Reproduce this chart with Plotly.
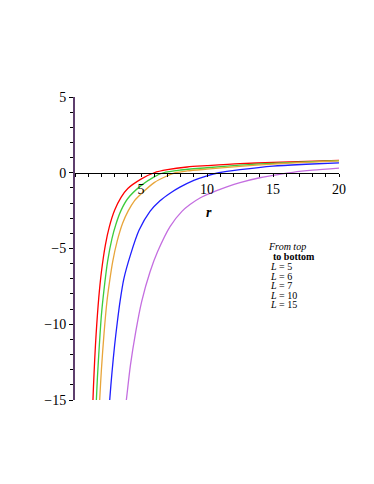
import plotly.graph_objects as go

# L = 5
r_L5 = [1.33, 1.4, 1.5, 1.6, 1.8, 2.0, 2.3, 2.6, 3.0, 3.5, 4.0, 5.0, 6.0, 7.0, 8.5, 10, 12.5, 15, 17.5, 20]
v_L5 = [-15.7, -14.1, -12.2, -10.65, -8.26, -6.55, -4.77, -3.57, -2.48, -1.61, -1.04, -0.42, 0.0, 0.2, 0.38, 0.47, 0.6, 0.68, 0.75, 0.82]
# L = 6
r_L6 = [1.58, 1.62, 1.7, 1.8, 2.0, 2.2, 2.47, 2.8, 3.1, 3.48, 4.0, 5.0, 6.0, 6.7, 8.0, 10, 12.5, 15, 17.5, 20]
v_L6 = [-16.0, -15.0, -13.5, -12.0, -9.4, -7.7, -5.85, -4.35, -3.4, -2.5, -1.7, -0.85, -0.27, 0.0, 0.18, 0.33, 0.5, 0.62, 0.72, 0.80]
# L = 7
r_L7 = [1.83, 1.87, 2.0, 2.2, 2.42, 2.6, 2.86, 3.2, 3.6, 4.04, 4.5, 5.0, 6.0, 7.0, 7.6, 8.5, 10, 12.5, 15, 17.5, 20]
v_L7 = [-15.7, -15.0, -13.0, -10.6, -8.5, -7.3, -5.85, -4.5, -3.35, -2.5, -1.85, -1.4, -0.65, -0.2, 0.0, 0.12, 0.24, 0.42, 0.57, 0.69, 0.79]
# L = 10
r_L10 = [2.58, 2.63, 2.8, 3.0, 3.2, 3.41, 3.7, 4.19, 4.85, 5.68, 6.44, 7.2, 7.95, 9.0, 10, 10.9, 12.5, 15, 17.5, 20]
v_L10 = [-15.8, -15.0, -13.2, -11.4, -9.9, -8.5, -7.0, -5.45, -3.8, -2.55, -1.85, -1.35, -0.95, -0.5, -0.2, 0.0, 0.2, 0.44, 0.56, 0.65]
# L = 15
r_L15 = [3.8, 3.89, 4.2, 4.6, 5.05, 5.68, 6.26, 7.2, 8.1, 8.71, 9.5, 10.73, 11.5, 12.5, 14, 15.5, 16.5, 18, 20]
v_L15 = [-15.6, -15.0, -12.7, -10.5, -8.5, -6.55, -5.2, -3.55, -2.55, -2.1, -1.65, -1.18, -0.93, -0.65, -0.33, -0.1, 0.03, 0.17, 0.31]

series = [
    ("L = 5", r_L5, v_L5, "#ff0000"),
    ("L = 6", r_L6, v_L6, "#3ccc3c"),
    ("L = 7", r_L7, v_L7, "#e8a53a"),
    ("L = 10", r_L10, v_L10, "#1f1fff"),
    ("L = 15", r_L15, v_L15, "#c46ee0"),
]

x_ticks = [5, 10, 15, 20]
y_ticks = [-15, -10, -5, 0, 5]
legend_lines = ["<i>L</i> = 5", "<i>L</i> = 6", "<i>L</i> = 7", "<i>L</i> = 10", "<i>L</i> = 15"]

fig = go.Figure()
for name, xs, ys, col in series:
    fig.add_trace(go.Scatter(x=xs, y=ys, mode="lines", name=name,
                             line=dict(color=col, width=1.3, shape="spline", smoothing=0.8),
                             showlegend=False))

serif = "Liberation Serif"
# the page adds an 8px body offset, margins compensate for it
fig.update_layout(
    width=374, height=484,
    margin=dict(l=67, r=43, t=89, b=92, autoexpand=False),
    paper_bgcolor="white", plot_bgcolor="white",
    font=dict(family=serif, size=14, color="black"),
    xaxis=dict(range=[0, 20], anchor="free", position=0.75, showline=True, linecolor="black",
               linewidth=1, showgrid=False, zeroline=False, tickvals=x_ticks, ticks="outside",
               ticklen=3, tickcolor="black", tickfont=dict(family=serif, size=14),
               minor=dict(dtick=1, ticks="outside", ticklen=3, tickcolor="black")),
    yaxis=dict(range=[-15, 5], showline=True, linecolor="#5e3f6e", linewidth=2,
               showgrid=False, zeroline=False, tickvals=y_ticks, ticks="outside",
               ticklen=4, tickcolor="black", tickfont=dict(family=serif, size=14),
               minor=dict(dtick=1, ticks="outside", ticklen=3, tickcolor="black")),
)

ann = [
    dict(x=8.1, y=5.85, text="<i><b>b</b></i> = 0.01", font=dict(family=serif, size=14)),
    dict(x=10.15, y=-2.64, text="<i><b>r</b></i>", font=dict(family=serif, size=14)),
    dict(x=-3.4, y=-7.6, text="<i>V</i><sub><i>eff</i></sub>", font=dict(family=serif, size=15)),
]
for a in ann:
    fig.add_annotation(xref="x", yref="y", showarrow=False, **a)

x0 = 14.5
fig.add_annotation(x=x0, y=(172 - 246) / 15.13, xref="x", yref="y", text="<i>From top</i>",
                   showarrow=False, xanchor="left", font=dict(family=serif, size=10))
fig.add_annotation(x=x0 + 0.35, y=(172 - 256) / 15.13, xref="x", yref="y", text="<b>to bottom</b>",
                   showarrow=False, xanchor="left", font=dict(family=serif, size=10))
for i, t in enumerate(legend_lines):
    ypx = 266 + i * 9.5
    fig.add_annotation(x=x0 + 0.15, y=(172 - ypx) / 15.13, xref="x", yref="y", text=t,
                       showarrow=False, xanchor="left", font=dict(family=serif, size=10))

fig.write_html("out.html", config={"displayModeBar": False})
